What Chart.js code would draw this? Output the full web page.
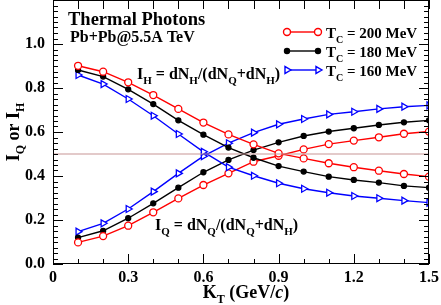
<!DOCTYPE html>
<html>
<head>
<meta charset="utf-8">
<script src="https://cdn.jsdelivr.net/npm/chart.js@4"></script>
<style>
  html, body { margin: 0; padding: 0; background: #fff; }
  #wrap { width: 441px; height: 305px; }
</style>
</head>
<body>
<div id="wrap"><canvas id="photonChart" width="441" height="305"></canvas></div>
<script>
// K_T values (GeV/c)
const kT = [0.1, 0.2, 0.3, 0.4, 0.5, 0.6, 0.7, 0.8, 0.9, 1.0, 1.1, 1.2, 1.3, 1.4, 1.5];

// I_H (hadronic fraction) for each T_C
const ihTc200 = [0.901, 0.874, 0.826, 0.768, 0.705, 0.643, 0.589, 0.544, 0.503, 0.480, 0.458, 0.440, 0.424, 0.409, 0.397];
const ihTc180 = [0.882, 0.852, 0.794, 0.727, 0.653, 0.588, 0.529, 0.483, 0.445, 0.420, 0.397, 0.382, 0.370, 0.355, 0.347];
const ihTc160 = [0.859, 0.818, 0.750, 0.674, 0.591, 0.510, 0.440, 0.401, 0.367, 0.342, 0.324, 0.309, 0.299, 0.288, 0.279];

// I_Q (quark fraction) for each T_C
const iqTc200 = [0.098, 0.127, 0.174, 0.235, 0.298, 0.359, 0.412, 0.465, 0.492, 0.521, 0.545, 0.561, 0.576, 0.592, 0.602];
const iqTc180 = [0.120, 0.151, 0.208, 0.276, 0.347, 0.417, 0.473, 0.518, 0.553, 0.582, 0.602, 0.617, 0.632, 0.644, 0.653];
const iqTc160 = [0.147, 0.185, 0.250, 0.329, 0.412, 0.490, 0.549, 0.597, 0.635, 0.659, 0.680, 0.692, 0.705, 0.715, 0.721];

// Reference line at 0.5
const halfX = [0, 1.5];
const halfY = [0.5, 0.5];

const legendLabels = ["200 MeV", "180 MeV", "160 MeV"];
const xTickLabels = ["0", "0.3", "0.6", "0.9", "1.2", "1.5"];
const yTickLabels = ["0.0", "0.2", "0.4", "0.6", "0.8", "1.0"];

const FONT = "'Liberation Serif', 'DejaVu Serif', serif";

const styles = {
  red:   { borderColor: "#ff0000", pointStyle: "circle",   pointRadius: 3.5, pointBackgroundColor: "#ffffff", pointRotation: 0 },
  black: { borderColor: "#000000", pointStyle: "circle",   pointRadius: 2.5, pointBackgroundColor: "#000000", pointRotation: 0 },
  blue:  { borderColor: "#0000ff", pointStyle: "triangle", pointRadius: 4,   pointBackgroundColor: "#ffffff", pointRotation: 90 },
};

function toPoints(xs, ys) {
  return xs.map((x, i) => ({ x, y: ys[i] }));
}

function series(values, style) {
  return {
    data: toPoints(kT, values),
    borderColor: style.borderColor,
    borderWidth: 1.4,
    pointStyle: style.pointStyle,
    pointRadius: style.pointRadius,
    pointBorderWidth: 1.3,
    pointBorderColor: style.borderColor,
    pointBackgroundColor: style.pointBackgroundColor,
    pointRotation: style.pointRotation,
    tension: 0,
    fill: false,
  };
}

function near(v, step) {
  const r = v / step;
  return Math.abs(r - Math.round(r)) < 1e-6;
}

// draw text made of pieces, some of them subscripts / italic
function drawRich(ctx, parts, x, y, size, align) {
  const subSize = Math.round(size * 0.68);
  const fontFor = (p) => `${p.it ? "italic " : ""}bold ${p.sub ? subSize : size}px ${FONT}`;
  let total = 0;
  parts.forEach(p => { ctx.font = fontFor(p); total += ctx.measureText(p.t).width; });
  let cx = align === "center" ? x - total / 2 : x;
  ctx.textAlign = "left";
  ctx.textBaseline = "alphabetic";
  parts.forEach(p => {
    ctx.font = fontFor(p);
    ctx.fillText(p.t, cx, p.sub ? y + size * 0.3 : y);
    cx += ctx.measureText(p.t).width;
  });
}

const decorPlugin = {
  id: "decor",
  afterDraw(chart) {
    const { ctx, chartArea: a, scales } = chart;
    const xs = scales.x, ys = scales.y;
    ctx.save();
    ctx.strokeStyle = "#000";
    ctx.lineWidth = 1;

    // frame
    ctx.strokeRect(a.left + 0.5, a.top + 0.5, a.right - a.left - 1, a.bottom - a.top - 1);

    // inward ticks
    ctx.beginPath();
    xs.ticks.forEach(t => {
      const px = Math.round(xs.getPixelForValue(t.value)) + 0.5;
      const len = near(t.value, 0.3) ? 10 : 5;
      ctx.moveTo(px, a.bottom); ctx.lineTo(px, a.bottom - len);
      ctx.moveTo(px, a.top); ctx.lineTo(px, a.top + 9);
    });
    ys.ticks.forEach(t => {
      const py = Math.round(ys.getPixelForValue(t.value)) + 0.5;
      const len = near(t.value, 0.2) ? 10 : 5;
      ctx.moveTo(a.left, py); ctx.lineTo(a.left + len, py);
      ctx.moveTo(a.right, py); ctx.lineTo(a.right - len, py);
    });
    ctx.stroke();

    ctx.fillStyle = "#000";
    // annotations
    drawRich(ctx, [{ t: "Thermal Photons" }], 68, 25, 18.5);
    drawRich(ctx, [{ t: "Pb+Pb@5.5A TeV" }], 70, 42, 16);
    drawRich(ctx, [
      { t: "I" }, { t: "H", sub: true }, { t: " = dN" }, { t: "H", sub: true },
      { t: "/(dN" }, { t: "Q", sub: true }, { t: "+dN" }, { t: "H", sub: true }, { t: ")" },
    ], 137, 79, 16);
    drawRich(ctx, [
      { t: "I" }, { t: "Q", sub: true }, { t: " = dN" }, { t: "Q", sub: true },
      { t: "/(dN" }, { t: "Q", sub: true }, { t: "+dN" }, { t: "H", sub: true }, { t: ")" },
    ], 155, 230, 16);

    // legend
    const legendStyles = [styles.red, styles.black, styles.blue];
    legendStyles.forEach((s, i) => {
      const ly = 32 + i * 19;
      ctx.strokeStyle = s.borderColor;
      ctx.lineWidth = 1.4;
      ctx.beginPath();
      ctx.moveTo(287, ly); ctx.lineTo(318, ly);
      ctx.stroke();
      const opts = {
        pointStyle: s.pointStyle, radius: s.pointRadius, rotation: s.pointRotation, borderWidth: 1.3,
      };
      ctx.fillStyle = s.pointBackgroundColor;
      ctx.strokeStyle = s.borderColor;
      Chart.helpers.drawPoint(ctx, opts, 287, ly);
      Chart.helpers.drawPoint(ctx, opts, 318, ly);
      ctx.fillStyle = "#000";
      drawRich(ctx, [{ t: "T" }, { t: "C", sub: true }, { t: " = " + legendLabels[i] }], 326, ly + 6, 15);
    });

    // axis titles
    drawRich(ctx, [{ t: "K" }, { t: "T", sub: true }, { t: " (GeV/" }, { t: "c", it: true }, { t: ")" }], 246, 298, 18, "center");
    ctx.translate(19, (a.top + a.bottom) / 2);
    ctx.rotate(-Math.PI / 2);
    drawRich(ctx, [{ t: "I" }, { t: "Q", sub: true }, { t: " or I" }, { t: "H", sub: true }], 0, 0, 18, "center");
    ctx.restore();
  },
};

const tickFont = { family: FONT, size: 16, weight: "bold" };

const ctx = document.getElementById("photonChart").getContext("2d");
new Chart(ctx, {
  type: "line",
  data: {
    datasets: [
      {
        data: toPoints(halfX, halfY),
        borderColor: "rgb(200,150,150)",
        borderWidth: 1.2,
        pointRadius: 0,
        fill: false,
      },
      series(ihTc200, styles.red),
      series(ihTc180, styles.black),
      series(ihTc160, styles.blue),
      series(iqTc200, styles.red),
      series(iqTc180, styles.black),
      series(iqTc160, styles.blue),
    ],
  },
  options: {
    responsive: false,
    animation: false,
    layout: { autoPadding: false, padding: { top: 0, right: 12, left: 0, bottom: 0 } },
    plugins: {
      legend: { display: false },
      tooltip: { enabled: false },
    },
    scales: {
      x: {
        type: "linear",
        min: 0,
        max: 1.5,
        grid: { display: false, drawTicks: false },
        border: { display: false },
        afterFit: (scale) => {
          scale.height = 41;
          scale.paddingLeft = 0;
          scale.paddingRight = 0;
        },
        ticks: {
          stepSize: 0.1,
          autoSkip: false,
          maxRotation: 0,
          padding: 4,
          color: "#000",
          font: tickFont,
          callback: (v) => {
            if (!near(v, 0.3)) return "";
            return xTickLabels[Math.round(v / 0.3)];
          },
        },
      },
      y: {
        type: "linear",
        min: 0,
        max: 1.2,
        grid: { display: false, drawTicks: false },
        border: { display: false },
        afterFit: (scale) => {
          scale.width = 53;
          scale.paddingTop = 0;
          scale.paddingBottom = 0;
        },
        ticks: {
          stepSize: 0.025,
          autoSkip: false,
          padding: 8,
          color: "#000",
          font: tickFont,
          callback: (v) => {
            if (!near(v, 0.2)) return "";
            const idx = Math.round(v / 0.2);
            return yTickLabels[idx] || "";
          },
        },
      },
    },
  },
  plugins: [decorPlugin],
});
</script>
</body>
</html>
